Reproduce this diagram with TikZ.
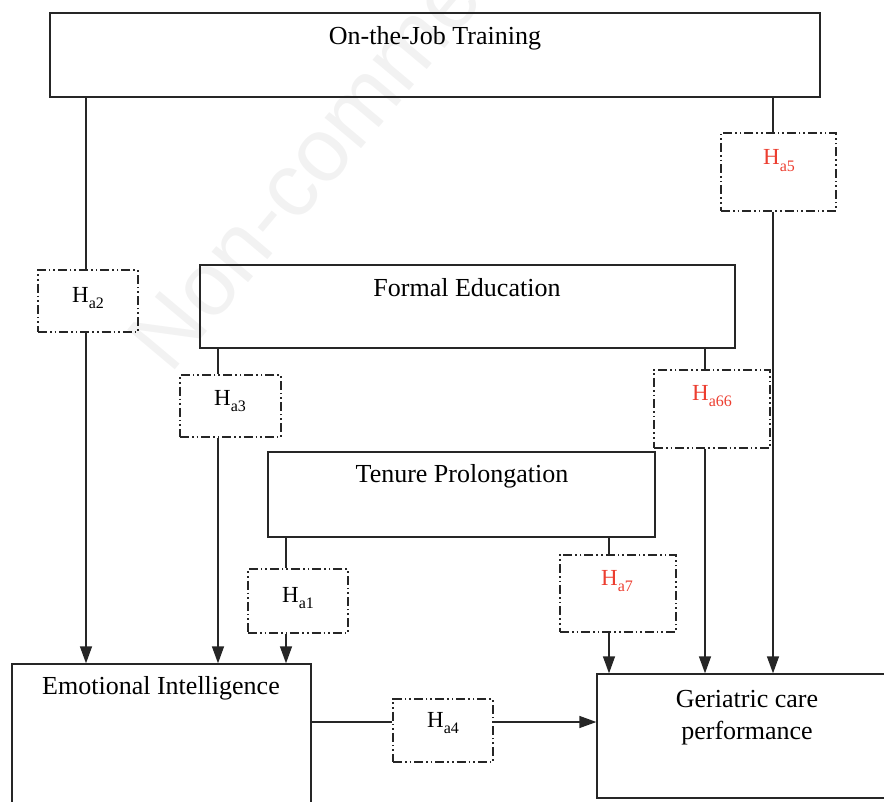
\documentclass[tikz,border=0pt]{standalone}
\usepackage{fontspec}
\setmainfont{Liberation Serif}
\newfontfamily\wmfont{Liberation Sans}
\usetikzlibrary{arrows.meta}
\definecolor{hred}{RGB}{236,62,48}
\newcommand\hyp[1]{H\raisebox{-0.3em}{\fontsize{16}{16}\selectfont #1}}
\begin{document}
\begin{tikzpicture}[x=1pt,y=-1pt,
  box/.style={draw=black!85,line width=1.3pt,minimum width=#1,inner sep=0pt},
  hbox/.style={draw=black!85,line width=1.3pt,inner sep=0pt,
    dash pattern=on 9pt off 3pt on 1.6pt off 3pt on 1.6pt off 3pt},
  txt/.style={font=\fontsize{26}{32}\selectfont,inner sep=0pt,align=center},
  htxt/.style={font=\fontsize{23}{26}\selectfont,inner sep=0pt},
  link/.style={draw=black!85,line width=1.3pt},
  arr/.style={link,-{Triangle[length=17pt,width=12pt]}}]
\useasboundingbox (0,0) rectangle (884,802);
\clip (0,0) rectangle (884,802);
% watermark
\node[rotate=50,text=black!5,font=\wmfont\fontsize{90}{90}\selectfont,inner sep=0pt] (wm) at (305,168) {Non-comme};
% main boxes
\node[box=770pt,minimum height=84pt] (ojt) at (435,55) {};
\node[txt] (ojtt) at (435,38) {On-the-Job Training};
\node[box=535pt,minimum height=83pt] (fe) at (467.5,306.5) {};
\node[txt] (fet) at (467,288) {Formal Education};
\node[box=387pt,minimum height=85pt] (tp) at (461.5,494.5) {};
\node[txt] (tpt) at (462,476) {Tenure Prolongation};
\node[box=299pt,minimum height=148pt] (ei) at (161.5,738) {};
\node[txt] (eit) at (161,688) {Emotional Intelligence};
\node[box=293pt,minimum height=124pt] (gcp) at (743.5,736) {};
\node[txt] (gcpt) at (747,718) {Geriatric care\\performance};
% hypothesis boxes
\node[hbox,minimum width=100pt,minimum height=62pt] (h2) at (88,301) {};
\node[htxt] (h2t) at (88,298) {\hyp{a2}};
\node[hbox,minimum width=101pt,minimum height=62pt] (h3) at (230.5,406) {};
\node[htxt] (h3t) at (230,401) {\hyp{a3}};
\node[hbox,minimum width=116pt,minimum height=78pt] (h66) at (712,409) {};
\node[htxt,text=hred] (h66t) at (712,396) {\hyp{a66}};
\node[hbox,minimum width=115pt,minimum height=78pt] (h5) at (778.5,172) {};
\node[htxt,text=hred] (h5t) at (779,161) {\hyp{a5}};
\node[hbox,minimum width=100pt,minimum height=64pt] (h1) at (298,601) {};
\node[htxt] (h1t) at (298,598) {\hyp{a1}};
\node[hbox,minimum width=116pt,minimum height=77pt] (h7) at (618,593.5) {};
\node[htxt,text=hred] (h7t) at (617,581) {\hyp{a7}};
\node[hbox,minimum width=100pt,minimum height=63pt] (h4) at (443,730.5) {};
\node[htxt] (h4t) at (443,723) {\hyp{a4}};
% x positions of connectors
\coordinate (c2) at (86,0);
\coordinate (c3) at (218,0);
\coordinate (c1) at (286,0);
\coordinate (c7) at (609,0);
\coordinate (c66) at (705,0);
\coordinate (c5) at (773,0);
\coordinate (r4) at (0,722);
% connectors
\draw[link] (ojt.south -| c2) -- (h2.north -| c2);
\draw[arr] (h2.south -| c2) -- (ei.north -| c2);
\draw[link] (fe.south -| c3) -- (h3.north -| c3);
\draw[arr] (h3.south -| c3) -- (ei.north -| c3);
\draw[link] (tp.south -| c1) -- (h1.north -| c1);
\draw[arr] (h1.south -| c1) -- (ei.north -| c1);
\draw[link] (ojt.south -| c5) -- (h5.north -| c5);
\draw[arr] (h5.south -| c5) -- (gcp.north -| c5);
\draw[link] (fe.south -| c66) -- (h66.north -| c66);
\draw[arr] (h66.south -| c66) -- (gcp.north -| c66);
\draw[link] (tp.south -| c7) -- (h7.north -| c7);
\draw[arr] (h7.south -| c7) -- (gcp.north -| c7);
\draw[link] (ei.east |- r4) -- (h4.west |- r4);
\draw[arr] (h4.east |- r4) -- (gcp.west |- r4);
\end{tikzpicture}
\end{document}
